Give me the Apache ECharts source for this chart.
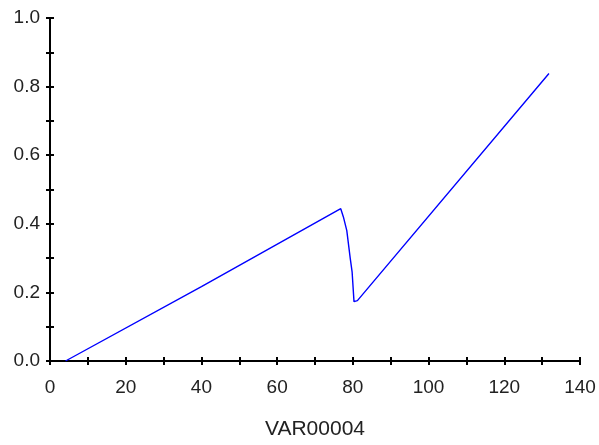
<!DOCTYPE html>
<html>
<head>
<meta charset="utf-8">
<script src="https://cdn.jsdelivr.net/npm/echarts@6/dist/echarts.min.js"></script>
<style>
  html, body { margin: 0; padding: 0; background: #fff; }
  #chart { width: 599px; height: 445px; }
</style>
</head>
<body>
<div id="chart"></div>
<script>
// Sampled points of the curve (VAR00004 on the horizontal axis)
const xValues = [4.1, 40, 76.8, 77.5, 78.4, 79.3, 79.8, 80.3, 81.2, 131.8];
const yValues = [0.0, 0.217, 0.444, 0.42, 0.38, 0.30, 0.26, 0.173, 0.176, 0.838];
const xAxisName = 'VAR00004';

const points = xValues.map((x, i) => [x, yValues[i]]);

const tickFont = { fontFamily: 'Liberation Sans, Arial, sans-serif', fontSize: 19, color: '#222' };
const nameFont = { fontFamily: 'Liberation Sans, Arial, sans-serif', fontSize: 21, color: '#222' };
const axisLine = { show: true, onZero: false, lineStyle: { color: '#000', width: 2 } };

// Each axis is drawn twice: once with outward ticks and labels, once with inward ticks,
// so that every tick mark crosses the axis line.
function xAxisDef(inside) {
  return {
    type: 'value', min: 0, max: 140, interval: 10, position: 'bottom',
    name: inside ? '' : xAxisName, nameLocation: 'middle', nameGap: 58,
    nameTextStyle: nameFont,
    axisLine: axisLine,
    axisTick: { show: true, inside: inside, length: 4, lineStyle: { color: '#000', width: 2 } },
    axisLabel: inside ? { show: false } : Object.assign({
      margin: 17,
      formatter: v => (Math.round(v) % 20 === 0 ? String(Math.round(v)) : '')
    }, tickFont),
    splitLine: { show: false }
  };
}
function yAxisDef(inside) {
  return {
    type: 'value', min: 0, max: 1, interval: 0.1, position: 'left',
    axisLine: axisLine,
    axisTick: { show: true, inside: inside, length: 4, lineStyle: { color: '#000', width: 2 } },
    axisLabel: inside ? { show: false } : Object.assign({
      margin: 10,
      formatter: v => (Math.round(v * 10) % 2 === 0 ? v.toFixed(1) : '')
    }, tickFont),
    splitLine: { show: false }
  };
}

const chart = echarts.init(document.getElementById('chart'));
chart.setOption({
  animation: false,
  backgroundColor: '#fff',
  grid: { left: 50, right: 19, top: 18, bottom: 84, containLabel: false },
  xAxis: [xAxisDef(false), xAxisDef(true)],
  yAxis: [yAxisDef(false), yAxisDef(true)],
  series: [{
    type: 'line',
    data: points,
    showSymbol: false,
    symbol: 'none',
    lineStyle: { color: '#0000ff', width: 1.4 },
    xAxisIndex: 0, yAxisIndex: 0
  }]
});
</script>
</body>
</html>
